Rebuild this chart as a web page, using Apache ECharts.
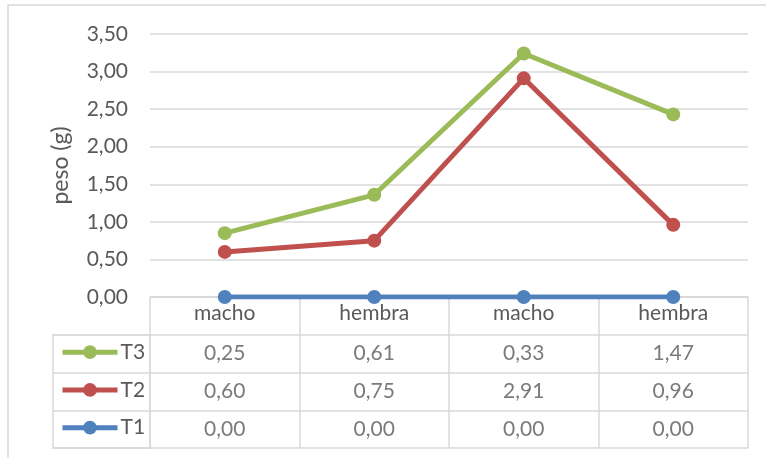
<!DOCTYPE html>
<html>
<head>
<meta charset="utf-8">
<script src="https://cdn.jsdelivr.net/npm/echarts@6/dist/echarts.min.js"></script>
<style>html,body{margin:0;padding:0;background:#fff}#c{width:766px;height:458px}</style>
</head>
<body>
<div id="c"></div>
<script>
const categories = ['macho', 'hembra', 'macho', 'hembra'];
const seriesNames = ['T1', 'T2', 'T3'];
const t1 = [0.00, 0.00, 0.00, 0.00];
const t2 = [0.60, 0.75, 2.91, 0.96];
const t3 = [0.25, 0.61, 0.33, 1.47];
const yMin = 0, yMax = 3.5, yStep = 0.5;
const yTitle = 'peso (g)';

const FONT = 'Lato';
const TXT = '#595959';
const GRIDC = '#d9d9d9';
const COLORS = { T1: '#4f81bd', T2: '#c0504d', T3: '#9bbb59' };
const values = { T1: t1, T2: t2, T3: t3 };
const fmt = v => Number(v).toFixed(2).replace('.', ',');

const W = 766, H = 458;
const plotLeft = 150, plotRight = 748, plotTop = 34, axisY = 297;
const tableBottom = 448;
const rowH = (tableBottom - axisY) / 4;
const legendLeft = 53;

const lineSeries = seriesNames.map(n => ({
  name: n,
  type: 'line',
  stack: 'total',
  xAxisIndex: 0, yAxisIndex: 0,
  data: values[n],
  symbol: 'circle',
  symbolSize: 14,
  lineStyle: { width: 5, color: COLORS[n] },
  itemStyle: { color: COLORS[n] },
  z: 3
}));

const rowOrder = ['T1', 'T2', 'T3', 'hdr'];
const tableSeries = seriesNames.map(n => ({
  name: 'tbl_' + n,
  type: 'scatter',
  xAxisIndex: 1, yAxisIndex: 1,
  symbolSize: 0,
  silent: true,
  data: values[n].map((v, i) => [i, n, v]),
  label: {
    show: true, position: 'inside',
    formatter: p => fmt(p.value[2]),
    fontFamily: FONT, fontSize: 21, color: TXT
  }
}));

const legendRows = ['T3', 'T2', 'T1'].map((n, i) => ({
  data: [n],
  left: 60,
  top: axisY + rowH * (i + 1.5) - 12,
  padding: 0,
  itemWidth: 55,
  itemHeight: 17,
  selectedMode: false,
  lineStyle: { width: 5 },
  textStyle: { fontFamily: FONT, fontSize: 21, color: TXT, padding: [0, 0, 0, -2] }
}));

const option = {
  animation: false,
  color: seriesNames.map(n => COLORS[n]),
  textStyle: { fontFamily: FONT },
  graphic: [{
    type: 'rect', silent: true, z: -10,
    shape: { x: 8, y: 5, width: 900, height: 600 },
    style: { fill: 'none', stroke: GRIDC, lineWidth: 1.5 }
  }],
  legend: legendRows,
  grid: [
    { left: plotLeft, right: W - plotRight, top: plotTop, bottom: H - axisY },
    { left: plotLeft, right: W - plotRight, top: axisY, bottom: H - tableBottom },
    { left: legendLeft, width: plotLeft - legendLeft, top: axisY + rowH, bottom: H - tableBottom,
      show: true, borderColor: GRIDC, borderWidth: 1.5 }
  ],
  xAxis: [
    { type: 'category', gridIndex: 0, data: categories, boundaryGap: true,
      axisLine: { show: true, lineStyle: { color: GRIDC, width: 1.5 } },
      axisTick: { show: false },
      axisLabel: { margin: 6, fontFamily: FONT, fontSize: 21, color: TXT },
      splitLine: { show: false } },
    { type: 'category', gridIndex: 1, data: categories, boundaryGap: true,
      axisLine: { show: false }, axisTick: { show: false }, axisLabel: { show: false },
      splitLine: { show: true, lineStyle: { color: GRIDC, width: 1.5 } } },
    { type: 'value', gridIndex: 2, min: 0, max: 1, show: false }
  ],
  yAxis: [
    { type: 'value', gridIndex: 0, min: yMin, max: yMax, interval: yStep,
      name: '{t|' + yTitle + '}', nameLocation: 'middle', nameGap: 78,
      nameTextStyle: { fontFamily: FONT, fontSize: 22, color: TXT,
        rich: { t: { fontFamily: FONT, fontSize: 23, color: TXT } } },
      axisLine: { show: false }, axisTick: { show: false },
      axisLabel: { margin: 22, fontFamily: FONT, fontSize: 21, color: TXT, formatter: v => fmt(v) },
      splitLine: { show: true, lineStyle: { color: GRIDC, width: 1.5 } } },
    { type: 'category', gridIndex: 1, data: rowOrder, boundaryGap: true,
      axisLine: { show: false }, axisTick: { show: false }, axisLabel: { show: false },
      splitLine: { show: true, lineStyle: { color: GRIDC, width: 1.5 } } },
    { type: 'category', gridIndex: 2, data: ['T1', 'T2', 'T3'], boundaryGap: true,
      axisLine: { show: false }, axisTick: { show: false }, axisLabel: { show: false },
      splitLine: { show: true, lineStyle: { color: GRIDC, width: 1.5 } } }
  ],
  series: lineSeries.concat(tableSeries)
};

const chart = echarts.init(document.getElementById('c'), null, { renderer: 'canvas' });
chart.setOption(option);
</script>
</body>
</html>
